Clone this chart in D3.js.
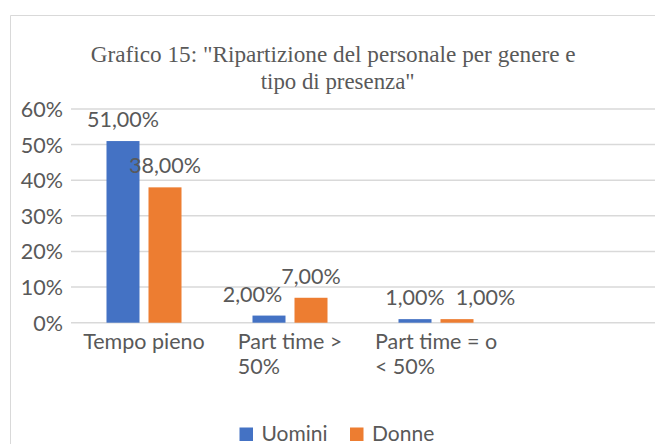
<!DOCTYPE html>
<html><head><meta charset="utf-8">
<script src="https://cdn.jsdelivr.net/npm/d3@7"></script>
<style>
html,body{margin:0;padding:0;background:#fff;}
svg{display:block;}
text{fill:#595959;}
</style></head>
<body>
<script>
const titleLines = ['Grafico 15: "Ripartizione del personale per genere e', 'tipo di presenza"'];
const categories = [["Tempo pieno"], ["Part time >", "50%"], ["Part time = o", "< 50%"]];
const series = ["Uomini", "Donne"];
const uomini = [0.51, 0.02, 0.01];
const donne = [0.38, 0.07, 0.01];
const yTicks = [0, 0.1, 0.2, 0.3, 0.4, 0.5, 0.6];
const colors = ["#4472C4", "#ED7D31"];

const W = 655, H = 444;
const sans = "Lato, 'Open Sans', sans-serif";
const svg = d3.select("body").append("svg").attr("width", W).attr("height", H);

// chart border
svg.append("path").attr("d", `M10.5,${H}V15.5H${W}`).attr("fill","none").attr("stroke","#D9D9D9").attr("stroke-width",1);

// title
const titleLens = [485, 154];
const titleX = [90.7, 260.7];
const titleY = [62, 88.5];
titleLines.forEach((t,i)=>{
  svg.append("text").text(t).attr("x", titleX[i]).attr("y", titleY[i])
    .attr("text-anchor","start").attr("font-family","'Liberation Serif','Times New Roman',serif")
    .attr("font-size", 23.2).attr("textLength", titleLens[i]).attr("lengthAdjust","spacingAndGlyphs");
});

const plotLeft = 71, plotRight = 655;
const catKeys = categories.map((c,i)=>i);
// four equal slots, the last one empty as in the source
const x = d3.scaleBand().domain([...catKeys, "blank"]).range([plotLeft, plotRight]);
const x1 = d3.scaleBand().domain(series).range([0, x.bandwidth()]).paddingInner(9/42).paddingOuter(0.845);
const y = d3.scaleLinear().domain([0, 0.6]).range([322.7, 109]);

// gridlines
svg.append("g").selectAll("line").data(yTicks).join("line")
  .attr("x1", plotLeft).attr("x2", plotRight)
  .attr("y1", d=>y(d)).attr("y2", d=>y(d))
  .attr("stroke","#D9D9D9").attr("stroke-width",1.5);

// y axis labels
const yAxis = d3.axisLeft(y).tickValues(yTicks).tickFormat(d3.format(".0%")).tickSize(0).tickPadding(0);
const ga = svg.append("g").attr("transform","translate(63,0)").call(yAxis);
ga.select(".domain").remove();
ga.selectAll("text").attr("font-family", sans).attr("font-size", 21.5).attr("fill","#595959").attr("dy","0.35em");

// bars
const dataSets = [uomini, donne];
const fmt = v => d3.format(".2f")(v*100).replace(".", ",") + "%";
const nudge = {"0-1": -16.5, "1-2": 28.5}; // label collision shifts (series-category)
series.forEach((s,si)=>{
  const g = svg.append("g");
  g.selectAll("rect").data(dataSets[si]).join("rect")
    .attr("x", (d,i)=>x(i)+x1(s)).attr("width", x1.bandwidth())
    .attr("y", d=>y(d)).attr("height", d=>y(0)-y(d))
    .attr("fill", colors[si]);
  g.selectAll("text").data(dataSets[si]).join("text")
    .attr("x", (d,i)=>x(i)+x1(s)+x1.bandwidth()/2 + (nudge[si+"-"+i]||0))
    .attr("y", d=>y(d)-14)
    .attr("text-anchor","middle").attr("font-family", sans).attr("font-size", 21.5)
    .text(d=>fmt(d));
});

// category labels (wrapped, left-aligned block centered on slot)
categories.forEach((lines,i)=>{
  const t = svg.append("text").attr("font-family", sans).attr("font-size", 21.5);
  lines.forEach((ln,j)=>{
    t.append("tspan").attr("x", 0).attr("y", 349.3 + j*24.7).text(ln);
  });
  const bb = t.node().getBBox();
  t.attr("transform", `translate(${x(i)+x.bandwidth()/2 - bb.width/2},0)`);
});

// legend
const legX = [239.5, 350];
series.forEach((s,si)=>{
  svg.append("rect").attr("x", legX[si]).attr("y", 427.5).attr("width", 13.5).attr("height", 13.5).attr("fill", colors[si]);
  svg.append("text").attr("x", legX[si]+22).attr("y", 440.5).attr("font-family", sans).attr("font-size", 21).text(s);
});
</script>
</body></html>
